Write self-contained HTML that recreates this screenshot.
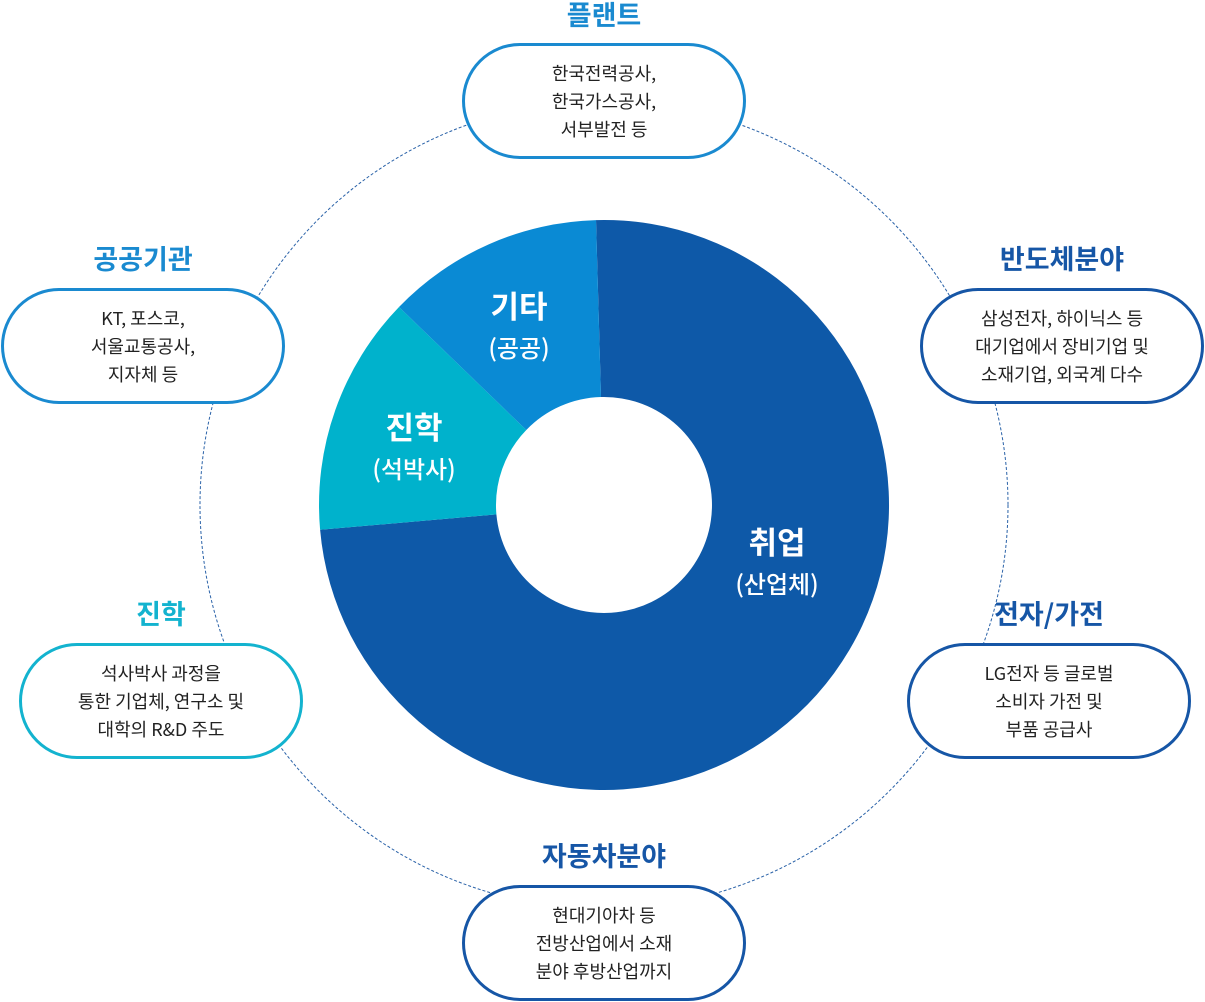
<!DOCTYPE html>
<html><head><meta charset="utf-8"><style>
body{margin:0;width:1205px;height:1002px;background:#fff;position:relative;overflow:hidden;font-family:"Noto Sans CJK KR","Liberation Sans",sans-serif}
svg{position:absolute;left:0;top:0}
.box{position:absolute;width:278px;height:110px;border:3px solid;border-radius:58px;background:#fff;box-sizing:content-box;display:flex;align-items:center;justify-content:center;text-align:center;font-size:18px;line-height:28px;color:#222}
.t{position:absolute;width:284px;text-align:center;font-size:27px;font-weight:bold;line-height:30px}
</style></head><body>
<svg width="1205" height="1002">
<circle cx="604" cy="505" r="404" fill="none" stroke="#2a62a8" stroke-width="1" stroke-dasharray="3,2"/>
<path d="M596,220.1 A285,285 0 1 1 320.1,529.8 L496.4,514.4 A108,108 0 1 0 601,397 Z" fill="#0e59a8"/>
<path d="M320.1,529.8 A285,285 0 0 1 399,307 L526.3,430 A108,108 0 0 0 496.4,514.4 Z" fill="#00b2cc"/>
<path d="M399,307 A285,285 0 0 1 596,220.1 L601,397 A108,108 0 0 0 526.3,430 Z" fill="#0a8ad4"/>
<g fill="#fff" text-anchor="middle" font-family="Noto Sans CJK KR, Liberation Sans, sans-serif">
<text x="519" y="318" font-size="31" font-weight="bold">기타</text>
<text x="519" y="357" font-size="24" font-weight="500">(공공)</text>
<text x="414" y="439" font-size="31" font-weight="bold">진학</text>
<text x="414" y="478" font-size="24" font-weight="500">(석박사)</text>
<text x="777" y="554" font-size="31" font-weight="bold">취업</text>
<text x="777" y="593" font-size="24" font-weight="500">(산업체)</text>
</g>
</svg>
<div class="t" style="left:462px;top:-1px;color:#1a8ad0">플랜트</div>
<div class="box" style="left:462px;top:43px;border-color:#1a8ad0">한국전력공사,<br>한국가스공사,<br>서부발전 등</div>
<div class="t" style="left:1px;top:243px;color:#1a8ad0">공공기관</div>
<div class="box" style="left:1px;top:288px;border-color:#1a8ad0">KT, 포스코,<br>서울교통공사,<br>지자체 등</div>
<div class="t" style="left:920px;top:243px;color:#1656a6">반도체분야</div>
<div class="box" style="left:920px;top:288px;border-color:#1656a6">삼성전자, 하이닉스 등<br>대기업에서 장비기업 및<br>소재기업, 외국계 다수</div>
<div class="t" style="left:19px;top:598px;color:#13b3cf">진학</div>
<div class="box" style="left:19px;top:643px;border-color:#13b3cf">석사박사 과정을<br>통한 기업체, 연구소 및<br>대학의 R&amp;D 주도</div>
<div class="t" style="left:907px;top:598px;color:#1656a6">전자/가전</div>
<div class="box" style="left:907px;top:643px;border-color:#1656a6">LG전자 등 글로벌<br>소비자 가전 및<br>부품 공급사</div>
<div class="t" style="left:462px;top:840px;color:#1656a6">자동차분야</div>
<div class="box" style="left:462px;top:885px;border-color:#1656a6">현대기아차 등<br>전방산업에서 소재<br>분야 후방산업까지</div>
</body></html>
